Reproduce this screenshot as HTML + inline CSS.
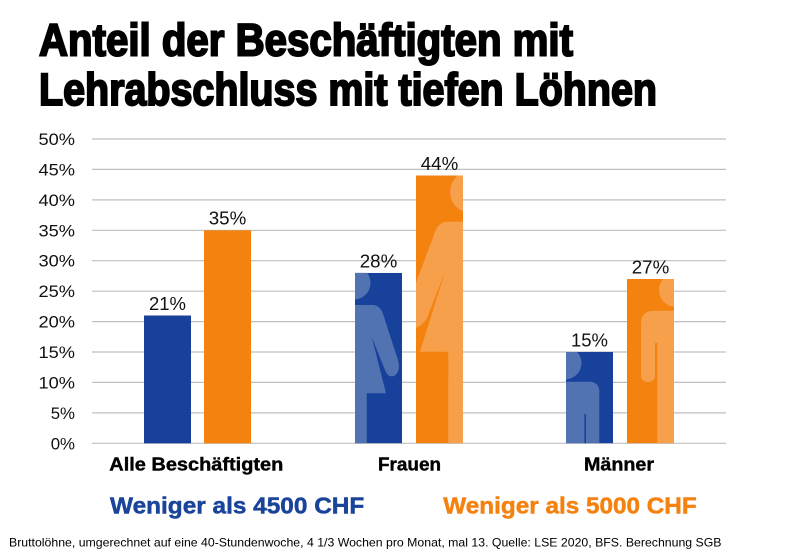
<!DOCTYPE html>
<html><head><meta charset="utf-8"><style>
html,body{margin:0;padding:0;background:#fff;}
svg{display:block;}
text{font-family:"Liberation Sans",Arial,sans-serif;}
</style></head><body>
<svg width="800" height="558" viewBox="0 0 800 558" xmlns="http://www.w3.org/2000/svg">
<rect width="800" height="558" fill="#fff"/>
<!-- Title -->
<text x="39" y="55.5" font-size="45" font-weight="bold" fill="#000" stroke="#000" stroke-width="2" textLength="534" lengthAdjust="spacingAndGlyphs">Anteil der Beschäftigten mit</text>
<text x="39" y="105" font-size="45" font-weight="bold" fill="#000" stroke="#000" stroke-width="2" textLength="618" lengthAdjust="spacingAndGlyphs">Lehrabschluss mit tiefen Löhnen</text>

<!-- Gridlines -->
<g stroke="#bfbfbf" stroke-width="1.2">
<line x1="92" y1="139" x2="726" y2="139"/>
<line x1="92" y1="169.4" x2="726" y2="169.4"/>
<line x1="92" y1="199.9" x2="726" y2="199.9"/>
<line x1="92" y1="230.3" x2="726" y2="230.3"/>
<line x1="92" y1="260.7" x2="726" y2="260.7"/>
<line x1="92" y1="291.2" x2="726" y2="291.2"/>
<line x1="92" y1="321.6" x2="726" y2="321.6"/>
<line x1="92" y1="352" x2="726" y2="352"/>
<line x1="92" y1="382.4" x2="726" y2="382.4"/>
<line x1="92" y1="412.9" x2="726" y2="412.9"/>
<line x1="92" y1="443.3" x2="726" y2="443.3"/>
</g>

<!-- Y labels -->
<g font-size="17" fill="#111" text-anchor="end">
<text x="75" y="145" textLength="36.5" lengthAdjust="spacingAndGlyphs">50%</text>
<text x="75" y="175.4" textLength="36.5" lengthAdjust="spacingAndGlyphs">45%</text>
<text x="75" y="205.9" textLength="36.5" lengthAdjust="spacingAndGlyphs">40%</text>
<text x="75" y="236.3" textLength="36.5" lengthAdjust="spacingAndGlyphs">35%</text>
<text x="75" y="266.7" textLength="36.5" lengthAdjust="spacingAndGlyphs">30%</text>
<text x="75" y="297.2" textLength="36.5" lengthAdjust="spacingAndGlyphs">25%</text>
<text x="75" y="327.6" textLength="36.5" lengthAdjust="spacingAndGlyphs">20%</text>
<text x="75" y="358" textLength="36.5" lengthAdjust="spacingAndGlyphs">15%</text>
<text x="75" y="388.4" textLength="36.5" lengthAdjust="spacingAndGlyphs">10%</text>
<text x="75" y="418.9" textLength="24.3" lengthAdjust="spacingAndGlyphs">5%</text>
<text x="75" y="449.3" textLength="24.3" lengthAdjust="spacingAndGlyphs">0%</text>
</g>

<!-- Bars: Alle -->
<rect x="144" y="315.5" width="47" height="127.8" fill="#17419a"/>
<rect x="204" y="230.3" width="47" height="213" fill="#f4820f"/>

<!-- Frauen blue -->
<svg x="355" y="272.9" width="47" height="170.4" viewBox="355 272.9 47 170.4" overflow="hidden">
<rect x="355" y="272.9" width="47" height="170.4" fill="#17419a"/>
<g fill="#5273b1">
<circle cx="354" cy="283" r="16.5"/>
<path d="M340 305 L372 305 Q380 305 383 314 L398 360 Q401 372 394 376 Q388 378 385 370 L371.7 336.7 L386 393.3 L366.7 393.3 L366.7 443.3 L340 443.3 Z"/>
</g>
</svg>

<!-- Frauen orange -->
<svg x="416" y="175.5" width="47" height="267.8" viewBox="416 175.5 47 267.8" overflow="hidden">
<rect x="416" y="175.5" width="47" height="267.8" fill="#f4820f"/>
<g fill="#f6a04c">
<circle cx="471" cy="192" r="21"/>
<path d="M475 221.7 L447 221.7 Q437 222 433.3 236.7 L404 315 Q401 326 410 328 Q420 330 427 318 L445 271.7 L420 351.7 L446 351.7 Q448.3 351.7 448.3 355 L448.3 443.3 L475 443.3 Z"/>
</g>
</svg>

<!-- Männer blue -->
<svg x="566" y="352" width="47" height="91.3" viewBox="566 352 47 91.3" overflow="hidden">
<rect x="566" y="352" width="47" height="91.3" fill="#17419a"/>
<g fill="#5273b1">
<circle cx="565" cy="363" r="16.5"/>
<path d="M550 381.7 L589 381.7 Q599.3 381.7 599.3 392 L599.3 443.3 L550 443.3 Z"/>
</g>
<rect x="584.4" y="414" width="1.6" height="30" fill="#17419a"/>
</svg>

<!-- Männer orange -->
<svg x="627" y="279" width="47" height="164.3" viewBox="627 279 47 164.3" overflow="hidden">
<rect x="627" y="279" width="47" height="164.3" fill="#f4820f"/>
<g fill="#f6a04c">
<circle cx="676" cy="290" r="17"/>
<path d="M680 310.7 L654 310.7 Q641 310.7 641 323.7 L641 375 Q641 382 648 382 Q655 382 655 375 L655 343 L657.3 343 L657.3 443.3 L680 443.3 Z"/>
</g>
</svg>

<!-- Data labels -->
<g font-size="18" fill="#111" text-anchor="middle">
<text x="167.5" y="310" textLength="37" lengthAdjust="spacingAndGlyphs">21%</text>
<text x="227.5" y="224.5" textLength="37.5" lengthAdjust="spacingAndGlyphs">35%</text>
<text x="378.5" y="267.3" textLength="37.5" lengthAdjust="spacingAndGlyphs">28%</text>
<text x="439.5" y="169.8" textLength="37.5" lengthAdjust="spacingAndGlyphs">44%</text>
<text x="589.5" y="346.3" textLength="37" lengthAdjust="spacingAndGlyphs">15%</text>
<text x="650.5" y="273.3" textLength="37.5" lengthAdjust="spacingAndGlyphs">27%</text>
</g>

<!-- Category labels -->
<g font-size="18.5" font-weight="bold" fill="#000" stroke="#000" stroke-width="0.4">
<text x="109.3" y="470.7" textLength="174" lengthAdjust="spacingAndGlyphs">Alle Beschäftigten</text>
<text x="378" y="470.7" textLength="63" lengthAdjust="spacingAndGlyphs">Frauen</text>
<text x="584" y="470.7" textLength="70" lengthAdjust="spacingAndGlyphs">Männer</text>
</g>

<!-- Legend -->
<text x="110" y="513.3" font-size="23.5" font-weight="bold" fill="#1a449a" stroke="#1a449a" stroke-width="0.5" textLength="254.3" lengthAdjust="spacingAndGlyphs">Weniger als 4500 CHF</text>
<text x="443.3" y="513.3" font-size="23.5" font-weight="bold" fill="#f5820f" stroke="#f5820f" stroke-width="0.5" textLength="253.4" lengthAdjust="spacingAndGlyphs">Weniger als 5000 CHF</text>

<!-- Footer -->
<text x="9" y="546.7" font-size="12" fill="#000" textLength="712.5" lengthAdjust="spacingAndGlyphs">Bruttolöhne, umgerechnet auf eine 40-Stundenwoche, 4 1/3 Wochen pro Monat, mal 13. Quelle: LSE 2020, BFS. Berechnung SGB</text>
</svg>
</body></html>
